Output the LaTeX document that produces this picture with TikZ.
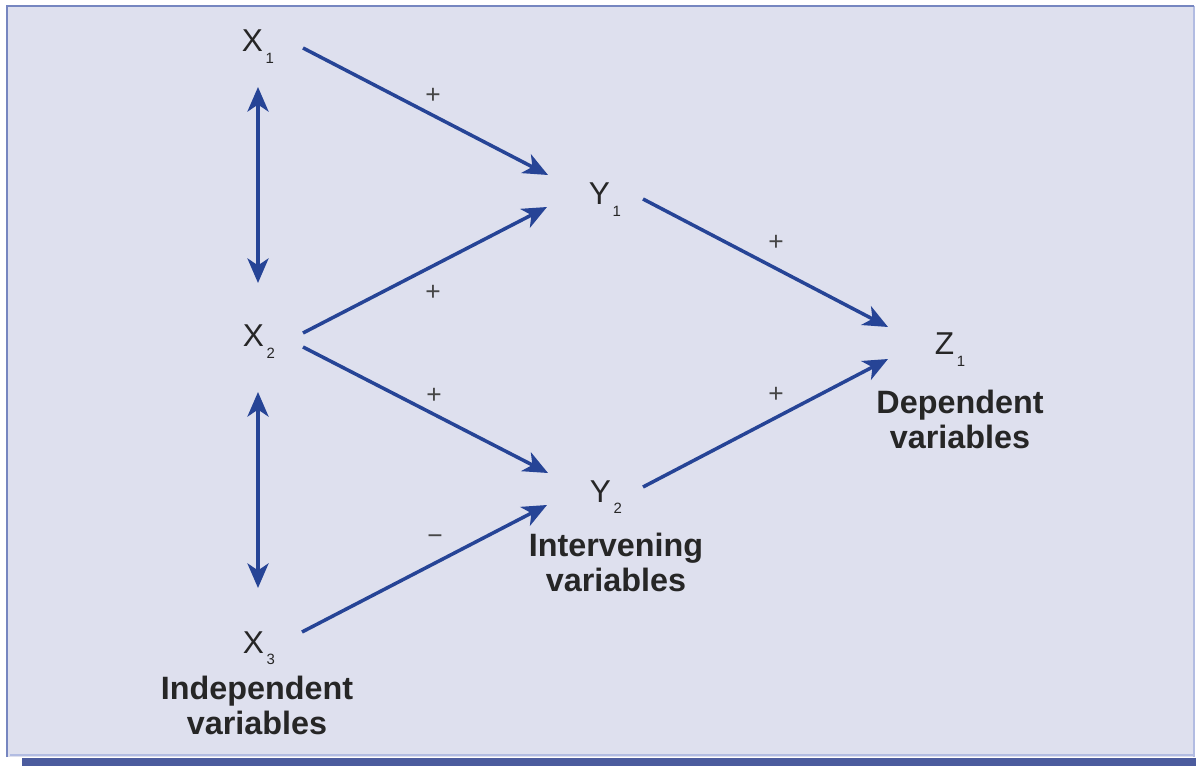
\documentclass[tikz,border=0pt]{standalone}
\usepackage{fontspec}
\setmainfont{Liberation Sans}
\usetikzlibrary{arrows.meta,calc}

\definecolor{panel}{RGB}{222,224,238}
\definecolor{edge}{RGB}{118,134,192}
\definecolor{edgelight}{RGB}{178,188,226}
\definecolor{bar}{RGB}{76,92,158}
\definecolor{arrowblue}{RGB}{38,68,150}
\definecolor{signgrey}{RGB}{70,70,70}

\newcommand{\vsub}[1]{\kern1.5pt\raisebox{-6.5pt}{\fontsize{8.5pt}{9pt}\selectfont #1}}

\tikzset{
	var/.style={inner sep=0pt, anchor=base, font=\fontsize{18pt}{20pt}\selectfont, text=black!85},
	lbl/.style={inner sep=0pt, anchor=north, align=center, font=\fontsize{18.4pt}{19.5pt}\selectfont\bfseries, text=black!85},
	sign/.style={inner sep=0pt, font=\fontsize{15pt}{16pt}\selectfont, text=signgrey},
	arr/.style={draw=arrowblue, line width=2pt, -{Stealth[length=14pt,width=12pt,inset=4pt]}},
	dbl/.style={draw=arrowblue, line width=2pt, {Stealth[length=14pt,width=12pt,inset=4pt]}-{Stealth[length=14pt,width=12pt,inset=4pt]}}
}

\begin{document}
\begin{tikzpicture}[x=0.02cm, y=-0.02cm]

	% frame
	\useasboundingbox (0,0) rectangle (1196,766);
	\fill[white] (0,0) rectangle (1196,766);
	\fill[panel] (7,6) rectangle (1194,757);
	\draw[edgelight, line width=1pt] (1194,6) -- (1194,757);
	\draw[edge, line width=1.3pt] (7,757) -- (7,6) -- (1194,6);
	\draw[edgelight, line width=1pt] (10,755) -- (1194,755);
	\fill[bar] (22,758) rectangle (1196,766);

	% variables
	\node[var] (x1) at (258,52) {X\vsub{1}};
	\node[var] (x2) at (259,347) {X\vsub{2}};
	\node[var] (x3) at (259,653) {X\vsub{3}};
	\node[var] (y1) at (605,205) {Y\vsub{1}};
	\node[var] (y2) at (606,502) {Y\vsub{2}};
	\node[var] (z1) at (950,355) {Z\vsub{1}};

	\node[lbl] (indep) at (257,676) {Independent\\variables};
	\node[lbl] (interv) at (616,533) {Intervening\\variables};
	\node[lbl] (dep) at (960,390) {Dependent\\variables};

	% signs
	\node[sign] (s1) at (433,96) {+};
	\node[sign] (s2) at (433,293) {+};
	\node[sign] (s3) at (434,396) {+};
	\node[sign] (s4) at (435,540) {−};
	\node[sign] (s5) at (776,243) {+};
	\node[sign] (s6) at (776,395) {+};

	% arrows
	\draw[arr] ($(x1.base)+(45,-4)$) -- ($(y1.base)+(-57,-30)$);
	\draw[arr] ($(x2.base)+(44,-14)$) -- ($(y1.base)+(-58,2)$);
	\draw[arr] ($(x2.base)+(44,0)$) -- ($(y2.base)+(-58,-29)$);
	\draw[arr] ($(x3.base)+(43,-21)$) -- ($(y2.base)+(-59,3)$);
	\draw[arr] ($(y1.base)+(38,-6)$) -- ($(z1.base)+(-62,-28)$);
	\draw[arr] ($(y2.base)+(37,-15)$) -- ($(z1.base)+(-62,4)$);

	\draw[dbl] ($(x1.base)+(0,35)$) -- ($(x2.base)+(-1,-64)$);
	\draw[dbl] ($(x2.base)+(-1,45)$) -- ($(x3.base)+(-1,-65)$);
\end{tikzpicture}
\end{document}
